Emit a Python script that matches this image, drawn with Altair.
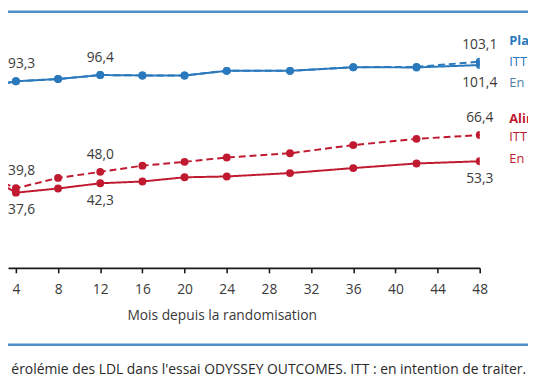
import altair as alt
import pandas as pd

# ---- data ----
months = [1, 4, 8, 12, 16, 20, 24, 30, 36, 42, 48]
placebo_itt = [90.3, 93.3, 94.4, 96.4, 96.2, 96.2, 98.5, 98.5, 100.3, 100.5, 103.1]
placebo_ot = [90.3, 93.3, 94.4, 96.4, 96.2, 96.2, 98.5, 98.5, 100.3, 100.2, 101.4]
aliro_itt = [46.8, 39.8, 45.0, 48.0, 51.1, 53.0, 55.2, 57.3, 61.4, 64.5, 66.4]
aliro_ot = [46.8, 37.6, 39.7, 42.3, 43.2, 45.3, 45.7, 47.4, 49.9, 52.2, 53.3]

groups = ["Placebo", "Alirocumab"]
analyses = ["ITT", "En traitement"]
tick_values = [4, 8, 12, 16, 20, 24, 28, 32, 36, 40, 44, 48]
x_title = "Mois depuis la randomisation"
caption = "érolémie des LDL dans l'essai ODYSSEY OUTCOMES. ITT : en intention de traiter."

# labels shown: (group, analysis, months, side)
label_spec = [
    ("Placebo", "ITT", [4, 12, 48], "haut"),
    ("Placebo", "En traitement", [48], "bas"),
    ("Alirocumab", "ITT", [4, 12, 48], "haut"),
    ("Alirocumab", "En traitement", [4, 12, 48], "bas"),
]

BLUE = "#2a79bd"
RED = "#c01a30"
FRAME = "#4b8ec8"
TXT = "#3a3a3a"
FONT = "Open Sans"

series = {
    ("Placebo", "ITT"): placebo_itt,
    ("Placebo", "En traitement"): placebo_ot,
    ("Alirocumab", "ITT"): aliro_itt,
    ("Alirocumab", "En traitement"): aliro_ot,
}
rows = []
for (g, a), vals in series.items():
    for m, v in zip(months, vals):
        rows.append({"mois": m, "ldl": v, "groupe": g, "analyse": a, "serie": g + " " + a})
df = pd.DataFrame(rows)

lab_rows = []
for g, a, ms, side in label_spec:
    vals = series[(g, a)]
    for m in ms:
        v = vals[months.index(m)]
        lab_rows.append({"mois": m, "ldl": v, "txt": f"{v:.1f}".replace(".", ","),
                         "side": side, "bord": m == 4})
labels = pd.DataFrame(lab_rows)

W, H = 479, 258

xs = alt.Scale(domain=[3.25, 48], nice=False, zero=False)
ys = alt.Scale(domain=[0, 127], nice=False, zero=False)
x_axis = alt.Axis(
    values=tick_values, title=x_title, grid=False,
    domainColor="#1a1a1a", domainWidth=1.6, tickColor="#1a1a1a", tickWidth=1.6, tickSize=5,
    labelFont=FONT, labelFontSize=14, labelColor=TXT, labelPadding=10,
    labelFlush=False, labelOverlap=False, labelBound=False,
    titleFont=FONT, titleFontSize=14, titleFontWeight="normal", titleColor=TXT,
    titleX=217, titleY=48, titleAlign="center", titleBaseline="middle",
)
color = alt.Color("groupe:N", scale=alt.Scale(domain=groups, range=[BLUE, RED]), legend=None)
dash = alt.StrokeDash("analyse:N", scale=alt.Scale(domain=analyses, range=[[7, 4], [1, 0]]), legend=None)

base = alt.Chart(df)
lines = base.mark_line(clip=True, strokeWidth=2).encode(
    x=alt.X("mois:Q", scale=xs, axis=x_axis),
    y=alt.Y("ldl:Q", scale=ys, axis=None),
    color=color, strokeDash=dash, detail="serie:N",
)
points = base.mark_circle(clip=True, size=64, opacity=1).encode(
    x=alt.X("mois:Q", scale=xs), y=alt.Y("ldl:Q", scale=ys), color=color,
)

lab_base = alt.Chart(labels).encode(
    x=alt.X("mois:Q", scale=xs), y=alt.Y("ldl:Q", scale=ys), text="txt:N"
)


def lab_layer(side, edge, dy):
    cond = (alt.datum.side == side) & (alt.datum.bord == edge)
    return lab_base.transform_filter(cond).mark_text(
        font=FONT, fontSize=14, color=TXT, dy=dy,
        align="left" if edge else "center", dx=-8 if edge else 0, baseline="middle")


lab_layers = [lab_layer("haut", False, -17), lab_layer("haut", True, -17),
              lab_layer("bas", False, 18), lab_layer("bas", True, 18)]


def note(txt, x, y, col, weight="normal", size=13, align="left"):
    return alt.Chart(pd.DataFrame({"t": [txt]})).mark_text(
        font=FONT, fontSize=size, color=col, fontWeight=weight, align=align, baseline="middle"
    ).encode(x=alt.value(x), y=alt.value(y), text="t:N")


legend = [
    note("Placebo", 509, 28, BLUE, "bold"),
    note("ITT", 509, 49, BLUE),
    note("En traitement", 509, 70, "#4d7fa6"),
    note("Alirocumab", 509, 107, RED, "bold"),
    note("ITT", 509, 125, RED),
    note("En traitement", 509, 147, RED),
]
cap = note(caption, 526, 362, "#2a2a2a", size=14.1, align="right")

one = pd.DataFrame({"k": [0]})
top_rule = alt.Chart(one).mark_rule(color=FRAME, strokeWidth=2.5).encode(
    x=alt.value(-10), x2=alt.value(540), y=alt.value(-2))
bot_rule = alt.Chart(one).mark_rule(color=FRAME, strokeWidth=2.5).encode(
    x=alt.value(-10), x2=alt.value(540), y=alt.value(336))

chart = alt.layer(
    top_rule, bot_rule, lines, points, *lab_layers, *legend, cap
).properties(
    width=W, height=H,
    padding={"left": 0, "top": 3, "right": 49, "bottom": 117},
    autosize=alt.AutoSizeParams(type="none"),
).configure_view(stroke=None)

chart.save("out.html", embed_options={"renderer": "svg", "actions": False})
